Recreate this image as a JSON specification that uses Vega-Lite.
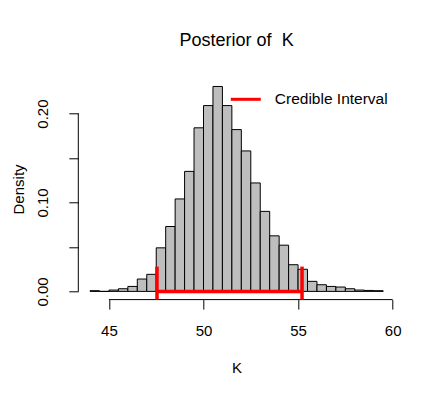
{
  "$schema": "https://vega.github.io/schema/vega-lite/v6.json",
  "width": 316.6,
  "height": 221.3,
  "autosize": "none",
  "padding": {"left": 78.3, "top": 78.3, "right": 40.1, "bottom": 97.4},
  "background": "white",
  "title": {"text": "Posterior of\u00a0 K", "fontSize": 18, "fontWeight": "normal", "font": "Liberation Sans", "color": "black", "anchor": "middle", "frame": "group", "baseline": "alphabetic", "offset": 14.3},
  "config": {
    "view": {"stroke": null},
    "font": "Liberation Sans"
  },
  "datasets": {
    "bars": [
      {"lo": 44.0, "hi": 44.5, "density": 0.0008},
      {"lo": 44.5, "hi": 45.0, "density": 0.0},
      {"lo": 45.0, "hi": 45.5, "density": 0.0015},
      {"lo": 45.5, "hi": 46.0, "density": 0.003},
      {"lo": 46.0, "hi": 46.5, "density": 0.0056},
      {"lo": 46.5, "hi": 47.0, "density": 0.0139},
      {"lo": 47.0, "hi": 47.5, "density": 0.0192},
      {"lo": 47.5, "hi": 48.0, "density": 0.049},
      {"lo": 48.0, "hi": 48.5, "density": 0.073},
      {"lo": 48.5, "hi": 49.0, "density": 0.104},
      {"lo": 49.0, "hi": 49.5, "density": 0.135},
      {"lo": 49.5, "hi": 50.0, "density": 0.184},
      {"lo": 50.0, "hi": 50.5, "density": 0.209},
      {"lo": 50.5, "hi": 51.0, "density": 0.2305},
      {"lo": 51.0, "hi": 51.5, "density": 0.209},
      {"lo": 51.5, "hi": 52.0, "density": 0.182},
      {"lo": 52.0, "hi": 52.5, "density": 0.158},
      {"lo": 52.5, "hi": 53.0, "density": 0.122},
      {"lo": 53.0, "hi": 53.5, "density": 0.090},
      {"lo": 53.5, "hi": 54.0, "density": 0.0625},
      {"lo": 54.0, "hi": 54.5, "density": 0.052},
      {"lo": 54.5, "hi": 55.0, "density": 0.030},
      {"lo": 55.0, "hi": 55.5, "density": 0.0249},
      {"lo": 55.5, "hi": 56.0, "density": 0.0113},
      {"lo": 56.0, "hi": 56.5, "density": 0.0075},
      {"lo": 56.5, "hi": 57.0, "density": 0.0056},
      {"lo": 57.0, "hi": 57.5, "density": 0.0049},
      {"lo": 57.5, "hi": 58.0, "density": 0.003},
      {"lo": 58.0, "hi": 58.5, "density": 0.0015},
      {"lo": 58.5, "hi": 59.0, "density": 0.0011},
      {"lo": 59.0, "hi": 59.5, "density": 0.0008}
    ],
    "frame": [
      {"x": 45, "x2": 60, "y": -0.00922, "y2": -0.00922},
      {"x": 43.38, "x2": 43.38, "y": 0, "y2": 0.2}
    ],
    "ci": [
      {"x": 47.54, "x2": 55.21, "y": 0, "y2": 0, "series": "Credible Interval", "w": "h"},
      {"x": 47.54, "x2": 47.54, "y": -0.00922, "y2": 0.0279, "series": "Credible Interval", "w": "v"},
      {"x": 55.21, "x2": 55.21, "y": -0.00922, "y2": 0.0279, "series": "Credible Interval", "w": "v"}
    ]
  },
  "layer": [
    {
      "data": {"name": "bars"},
      "mark": {"type": "rect", "fill": "#BEBEBE", "stroke": "black", "strokeWidth": 1},
      "encoding": {
        "x": {"field": "lo", "type": "quantitative", "scale": {"domain": [43.38, 60.12], "nice": false, "zero": false},
          "axis": {"domain": false, "grid": false, "values": [45, 50, 55, 60], "tickColor": "black", "tickSize": 9.5, "tickWidth": 1,
            "labelFont": "Liberation Sans", "labelFontSize": 15, "labelColor": "black", "labelBaseline": "alphabetic", "labelPadding": 26, "labelFlush": false,
            "title": "K", "titleFont": "Liberation Sans", "titleFontSize": 15, "titleFontWeight": "normal", "titleColor": "black", "titleBaseline": "alphabetic", "titleY": 73.1}},
        "x2": {"field": "hi"},
        "y": {"field": "density", "type": "quantitative", "scale": {"domain": [-0.00922, 0.2397], "nice": false, "zero": false},
          "axis": {"domain": false, "grid": false, "values": [0, 0.05, 0.1, 0.15, 0.2], "tickColor": "black", "tickSize": 9.5, "tickWidth": 1,
            "labelExpr": "(datum.value == 0 || datum.value == 0.1 || datum.value == 0.2) ? format(datum.value, '.2f') : ''",
            "labelFont": "Liberation Sans", "labelFontSize": 15, "labelColor": "black", "labelAngle": 270, "labelAlign": "center", "labelBaseline": "alphabetic", "labelPadding": 21.5, "labelFlush": false, "labelOverlap": false,
            "title": "Density", "titleFont": "Liberation Sans", "titleFontSize": 15, "titleFontWeight": "normal", "titleColor": "black", "titleAngle": 270, "titleBaseline": "alphabetic", "titleX": -55}},
        "y2": {"datum": 0}
      }
    },
    {
      "data": {"name": "frame"},
      "mark": {"type": "rule", "color": "black", "strokeWidth": 1},
      "encoding": {
        "x": {"field": "x", "type": "quantitative"},
        "x2": {"field": "x2"},
        "y": {"field": "y", "type": "quantitative"},
        "y2": {"field": "y2"}
      }
    },
    {
      "data": {"name": "ci"},
      "mark": {"type": "rule", "strokeWidth": 3.5},
      "encoding": {
        "x": {"field": "x", "type": "quantitative"},
        "x2": {"field": "x2"},
        "y": {"field": "y", "type": "quantitative"},
        "y2": {"field": "y2"},
        "color": {"field": "series", "type": "nominal", "scale": {"range": ["#FF0000"]},
          "legend": {"title": null, "orient": "none", "legendX": 151, "legendY": 4.5, "symbolType": "stroke", "symbolSize": 900, "symbolStrokeWidth": 3, "symbolStrokeColor": "#FF0000",
            "labelFont": "Liberation Sans", "labelFontSize": 15.5, "labelColor": "black", "labelOffset": 12.5, "padding": 0}}
      }
    }
  ]
}
